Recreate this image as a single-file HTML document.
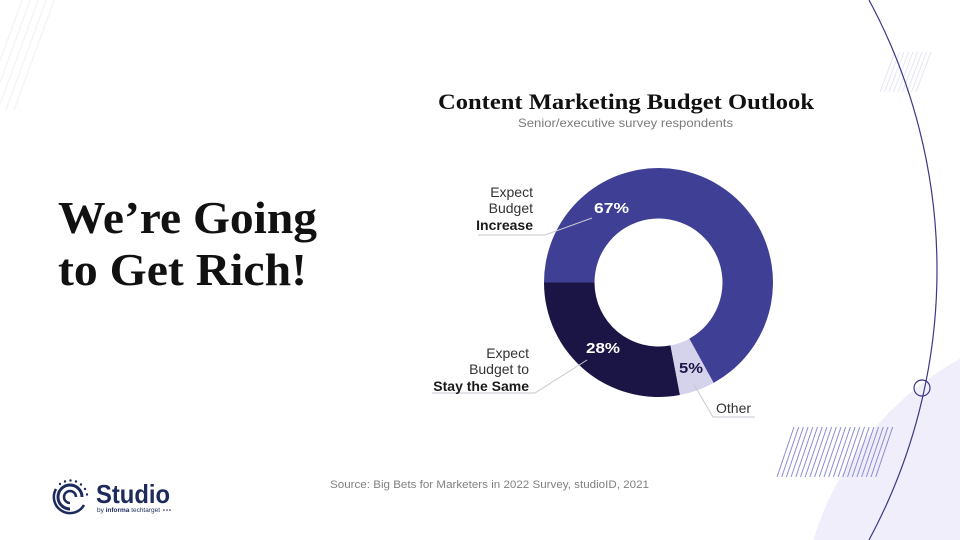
<!DOCTYPE html>
<html><head><meta charset="utf-8"><style>
html,body{margin:0;padding:0;background:#fff;width:960px;height:540px;overflow:hidden;}
svg{display:block;}
</style></head><body>
<svg width="960" height="540" viewBox="0 0 960 540" xmlns="http://www.w3.org/2000/svg">
<rect width="960" height="540" fill="#fff"/>
<!-- lavender circle bottom right (clipped to frame) -->
<path d="M 813.4 540 A 310 310 0 0 1 960 358.7 L 960 540 Z" fill="#efeefa"/>
<!-- top-left faint hatch -->
<g stroke="#f4f4f4" stroke-width="1.5">
<line x1="0" y1="104.5" x2="38.2" y2="0"/>
<line x1="6" y1="110" x2="46.2" y2="0"/>
<line x1="14" y1="110" x2="54.2" y2="0"/>
<line x1="0" y1="82.6" x2="30.2" y2="0"/>
<line x1="0" y1="60.7" x2="22.2" y2="0"/>
</g>
<!-- top-right faint hatch -->
<g stroke="#e4e4f6" stroke-width="1">
<line x1="880" y1="92" x2="895" y2="52"/>
<line x1="884.5" y1="92" x2="899.5" y2="52"/>
<line x1="889" y1="92" x2="904" y2="52"/>
<line x1="893.5" y1="92" x2="908.5" y2="52"/>
<line x1="898" y1="92" x2="913" y2="52"/>
<line x1="902.5" y1="92" x2="917.5" y2="52"/>
<line x1="907" y1="92" x2="922" y2="52"/>
<line x1="911.5" y1="92" x2="926.5" y2="52"/>
<line x1="916" y1="92" x2="931" y2="52"/>
</g>
<!-- bottom hatch -->
<g stroke="#8c8ad3" stroke-width="1">
<line x1="777" y1="477" x2="794" y2="427"/>
<line x1="781.7" y1="477" x2="798.7" y2="427"/>
<line x1="786.4" y1="477" x2="803.4" y2="427"/>
<line x1="791.1" y1="477" x2="808.1" y2="427"/>
<line x1="795.8" y1="477" x2="812.8" y2="427"/>
<line x1="800.5" y1="477" x2="817.5" y2="427"/>
<line x1="805.2" y1="477" x2="822.2" y2="427"/>
<line x1="809.9" y1="477" x2="826.9" y2="427"/>
<line x1="814.6" y1="477" x2="831.6" y2="427"/>
<line x1="819.3" y1="477" x2="836.3" y2="427"/>
<line x1="824" y1="477" x2="841" y2="427"/>
<line x1="828.7" y1="477" x2="845.7" y2="427"/>
<line x1="833.4" y1="477" x2="850.4" y2="427"/>
<line x1="838.1" y1="477" x2="855.1" y2="427"/>
<line x1="842.8" y1="477" x2="859.8" y2="427"/>
<line x1="847.5" y1="477" x2="864.5" y2="427"/>
<line x1="852.2" y1="477" x2="869.2" y2="427"/>
<line x1="856.9" y1="477" x2="873.9" y2="427"/>
<line x1="861.6" y1="477" x2="878.6" y2="427"/>
<line x1="866.3" y1="477" x2="883.3" y2="427"/>
<line x1="871" y1="477" x2="888" y2="427"/>
<line x1="875.7" y1="477" x2="892.7" y2="427"/>
</g>
<!-- big arc (visible portion only) -->
<path d="M 869 0 A 570 570 0 0 1 869 540" fill="none" stroke="#3b3a85" stroke-width="1.2"/>
<circle cx="922" cy="388" r="8" fill="none" stroke="#3b3a85" stroke-width="1.2"/>

<!-- left title -->
<g font-family="'Liberation Serif', serif" font-weight="bold" fill="#111" font-size="45">
<text x="58" y="233" textLength="259" lengthAdjust="spacingAndGlyphs">We’re Going</text>
<text x="58" y="285" textLength="249" lengthAdjust="spacingAndGlyphs">to Get Rich!</text>
</g>

<!-- chart title -->
<text x="438" y="109" font-family="'Liberation Serif', serif" font-weight="bold" font-size="22" fill="#111" textLength="376" lengthAdjust="spacingAndGlyphs">Content Marketing Budget Outlook</text>
<text x="518" y="127" font-family="'Liberation Sans', sans-serif" font-size="12" fill="#7a7a7a" textLength="215" lengthAdjust="spacingAndGlyphs">Senior/executive survey respondents</text>

<!-- donut -->
<path d="M 544 282.5 A 114.5 114.5 0 0 0 679.96 394.97 L 670.5 345.37 A 64 64 0 0 1 594.5 282.5 Z" fill="#1b1546"/>
<path d="M 679.96 394.97 A 114.5 114.5 0 0 0 713.67 382.84 L 689.34 338.58 A 64 64 0 0 1 670.5 345.37 Z" fill="#d5d3ec"/>
<path d="M 713.67 382.84 A 114.5 114.5 0 1 0 544 282.5 L 594.5 282.5 A 64 64 0 1 1 689.34 338.58 Z" fill="#3f3f95"/>

<!-- leader lines -->
<g stroke="#c9c9d2" stroke-width="1" fill="none">
<polyline points="478,235 545,235 592,218"/>
<polyline points="432,393 535,393 587,360"/>
<polyline points="693,383 713,417 755,417"/>
</g>

<!-- labels -->
<g font-family="'Liberation Sans', sans-serif" font-size="14" fill="#333" text-anchor="end">
<text x="533" y="197">Expect</text>
<text x="533" y="213">Budget</text>
<text x="533" y="230" font-weight="bold" fill="#1a1a1a">Increase</text>
<text x="529" y="358">Expect</text>
<text x="529" y="374">Budget to</text>
<text x="529" y="391" font-weight="bold" fill="#1a1a1a">Stay the Same</text>
</g>
<text x="716" y="413" font-family="'Liberation Sans', sans-serif" font-size="14" fill="#333">Other</text>

<g font-family="'Liberation Sans', sans-serif" font-size="15" font-weight="bold">
<text x="594" y="213" fill="#fff" textLength="35" lengthAdjust="spacingAndGlyphs">67%</text>
<text x="586" y="353" fill="#fff" textLength="34" lengthAdjust="spacingAndGlyphs">28%</text>
<text x="679" y="373" fill="#1b1546" textLength="24" lengthAdjust="spacingAndGlyphs">5%</text>
</g>

<!-- source -->
<text x="330" y="488" font-family="'Liberation Sans', sans-serif" font-size="11" fill="#808080" textLength="319" lengthAdjust="spacingAndGlyphs">Source: Big Bets for Marketers in 2022 Survey, studioID, 2021</text>

<!-- logo -->
<g fill="none" stroke="#1d2a5c">
<path d="M 84 505 A 16 16 0 1 1 56 489" stroke-width="2.5"/>
<path d="M 70 509 A 12 12 0 1 1 82 497" stroke-width="3"/>
<path d="M 70 503 A 6 6 0 1 1 76 497" stroke-width="2.5"/>
</g>
<g fill="#1d2a5c">
<circle cx="60" cy="484" r="1.2"/>
<circle cx="65" cy="481.5" r="1.2"/>
<circle cx="70.5" cy="480.5" r="1.2"/>
<circle cx="76" cy="481.5" r="1.2"/>
<circle cx="81" cy="484.5" r="1.2"/>
<circle cx="85" cy="489" r="1.2"/>
<circle cx="87" cy="494.5" r="1.2"/>
<text x="96" y="503" font-family="'Liberation Sans', sans-serif" font-weight="bold" font-size="26" textLength="74" lengthAdjust="spacingAndGlyphs">Studio</text>
<text x="97" y="512" font-family="'Liberation Sans', sans-serif" font-size="6.5" textLength="63" lengthAdjust="spacingAndGlyphs">by <tspan font-weight="bold">informa</tspan> techtarget</text>
<circle cx="164" cy="510" r="0.8"/>
<circle cx="167" cy="510" r="0.8"/>
<circle cx="170" cy="510" r="0.8"/>
</g>
</svg>
</body></html>
